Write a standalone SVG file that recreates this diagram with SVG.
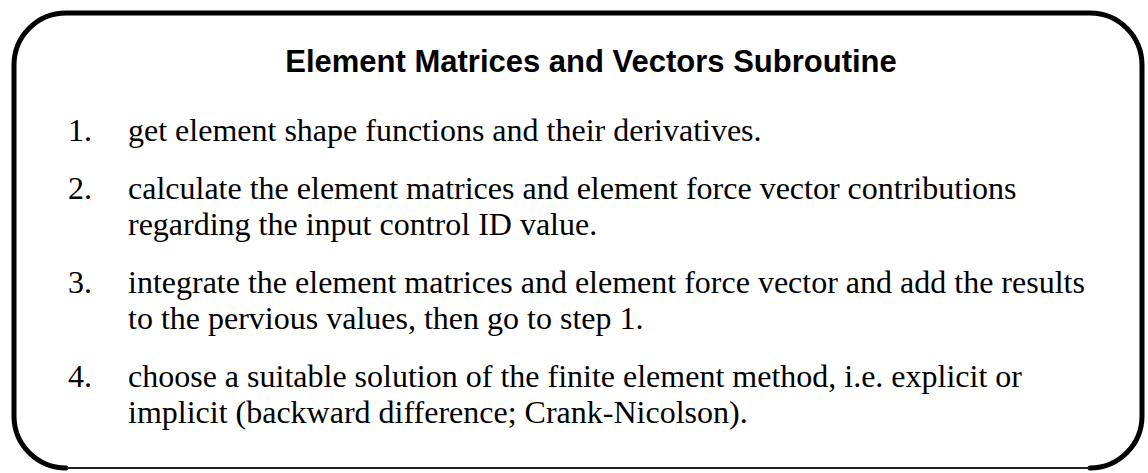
<svg xmlns="http://www.w3.org/2000/svg" width="1148" height="473" viewBox="0 0 1148 473">
  <style>
    .frame { fill: none; stroke: #000; stroke-width: 5; stroke-linecap: round; }
    .frame-base { fill: none; stroke: #222; stroke-width: 2.2; }
    .title { font-family: "Liberation Sans", Arial, sans-serif; font-weight: bold; font-size: 31px; fill: #000; text-anchor: middle; }
    .num, .step { font-family: "Liberation Serif", "Times New Roman", serif; font-size: 32px; fill: #000; }
  </style>
  <rect x="0" y="0" width="1148" height="473" fill="#fff"/>

  <!-- rounded outer frame: heavy sides and top, lighter base line -->
  <g id="subroutine-box">
    <path class="frame" d="M 66,468 A 52 52 0 0 1 14,416 L 14,65 A 52 52 0 0 1 66,13 L 1090,13 A 52 52 0 0 1 1142,65 L 1142,416 A 52 52 0 0 1 1090,468"/>
    <path class="frame-base" d="M 66,468 L 1090,468"/>
  </g>

  <g id="title">
    <text class="title" x="591" y="72">Element Matrices and Vectors Subroutine</text>
  </g>

  <g id="step-1">
    <text class="num" x="68" y="141">1.</text>
    <text class="step" x="128" y="141">get element shape functions and their derivatives.</text>
  </g>

  <g id="step-2">
    <text class="num" x="68" y="199">2.</text>
    <text class="step" x="128" y="199">calculate the element matrices and element force vector contributions</text>
    <text class="step" x="128" y="235">regarding the input control ID value.</text>
  </g>

  <g id="step-3">
    <text class="num" x="68" y="293">3.</text>
    <text class="step" x="128" y="293">integrate the element matrices and element force vector and add the results</text>
    <text class="step" x="128" y="329">to the pervious values, then go to step 1.</text>
  </g>

  <g id="step-4">
    <text class="num" x="68" y="387">4.</text>
    <text class="step" x="128" y="387">choose a suitable solution of the finite element method, i.e. explicit or</text>
    <text class="step" x="128" y="423">implicit (backward difference; Crank-Nicolson).</text>
  </g>
</svg>
